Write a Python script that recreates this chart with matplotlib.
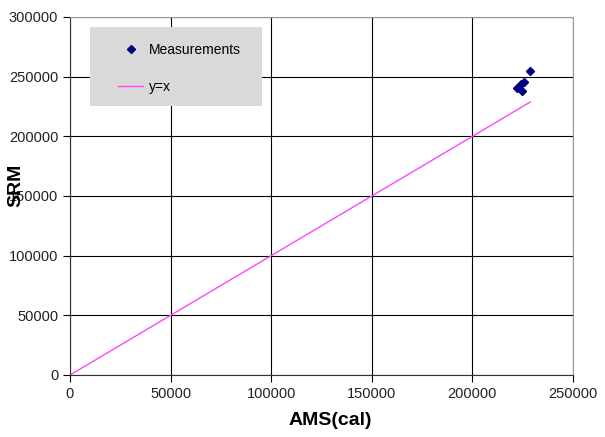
import matplotlib.pyplot as plt
from matplotlib.patches import Rectangle

plt.rcParams['font.family'] = ['Liberation Sans', 'DejaVu Sans']

ams_cal = [228600, 225700, 224200, 222200, 224700]
srm = [254800, 245500, 243900, 240500, 238000]

# y=x reference line
line_x = [0, 228800]
line_y = [0, 228800]

fig = plt.figure(figsize=(6.05, 4.37), dpi=100)
ax = fig.add_axes([0.1157, 0.1419, 0.8314, 0.8192])

meas, = ax.plot(ams_cal, srm, linestyle='none', marker='D', markersize=4.5,
                color='#000080', label='Measurements', zorder=3)
ref, = ax.plot(line_x, line_y, color='#ff44ff', linewidth=1.0, label='y=x', zorder=2)

ax.set_xlim(0, 250000)
ax.set_ylim(0, 300000)
ax.set_xticks(range(0, 250001, 50000))
ax.set_yticks(range(0, 300001, 50000))
ax.grid(True, color='black', linewidth=0.8)
ax.set_axisbelow(True)
ax.tick_params(labelsize=10.5, length=5, width=0.8, colors='black', labelcolor='#222222')
for side in ['left', 'bottom']:
    ax.spines[side].set_color('#333333')
for side in ['top', 'right']:
    ax.spines[side].set_color('#999999')

ax.set_xlabel('AMS(cal)', fontsize=14, fontweight='bold')
ax.xaxis.set_label_coords(0.517, -0.104)
ax.set_ylabel('SRM', fontsize=14, fontweight='bold')
ax.yaxis.set_label_coords(-0.09, 0.53)

# grey legend panel
ax.add_patch(Rectangle((0.04, 0.751), 0.342, 0.221, transform=ax.transAxes,
                       facecolor='#d9d9d9', edgecolor='none', zorder=4))
leg = ax.legend([meas, ref], ['Measurements', 'y=x'], loc='upper left',
                bbox_to_anchor=(0.071, 0.963), frameon=False, fontsize=10,
                handlelength=1.8, handletextpad=0.4, labelspacing=1.7)
leg.set_zorder(5)

plt.savefig('out.png', dpi=100)
